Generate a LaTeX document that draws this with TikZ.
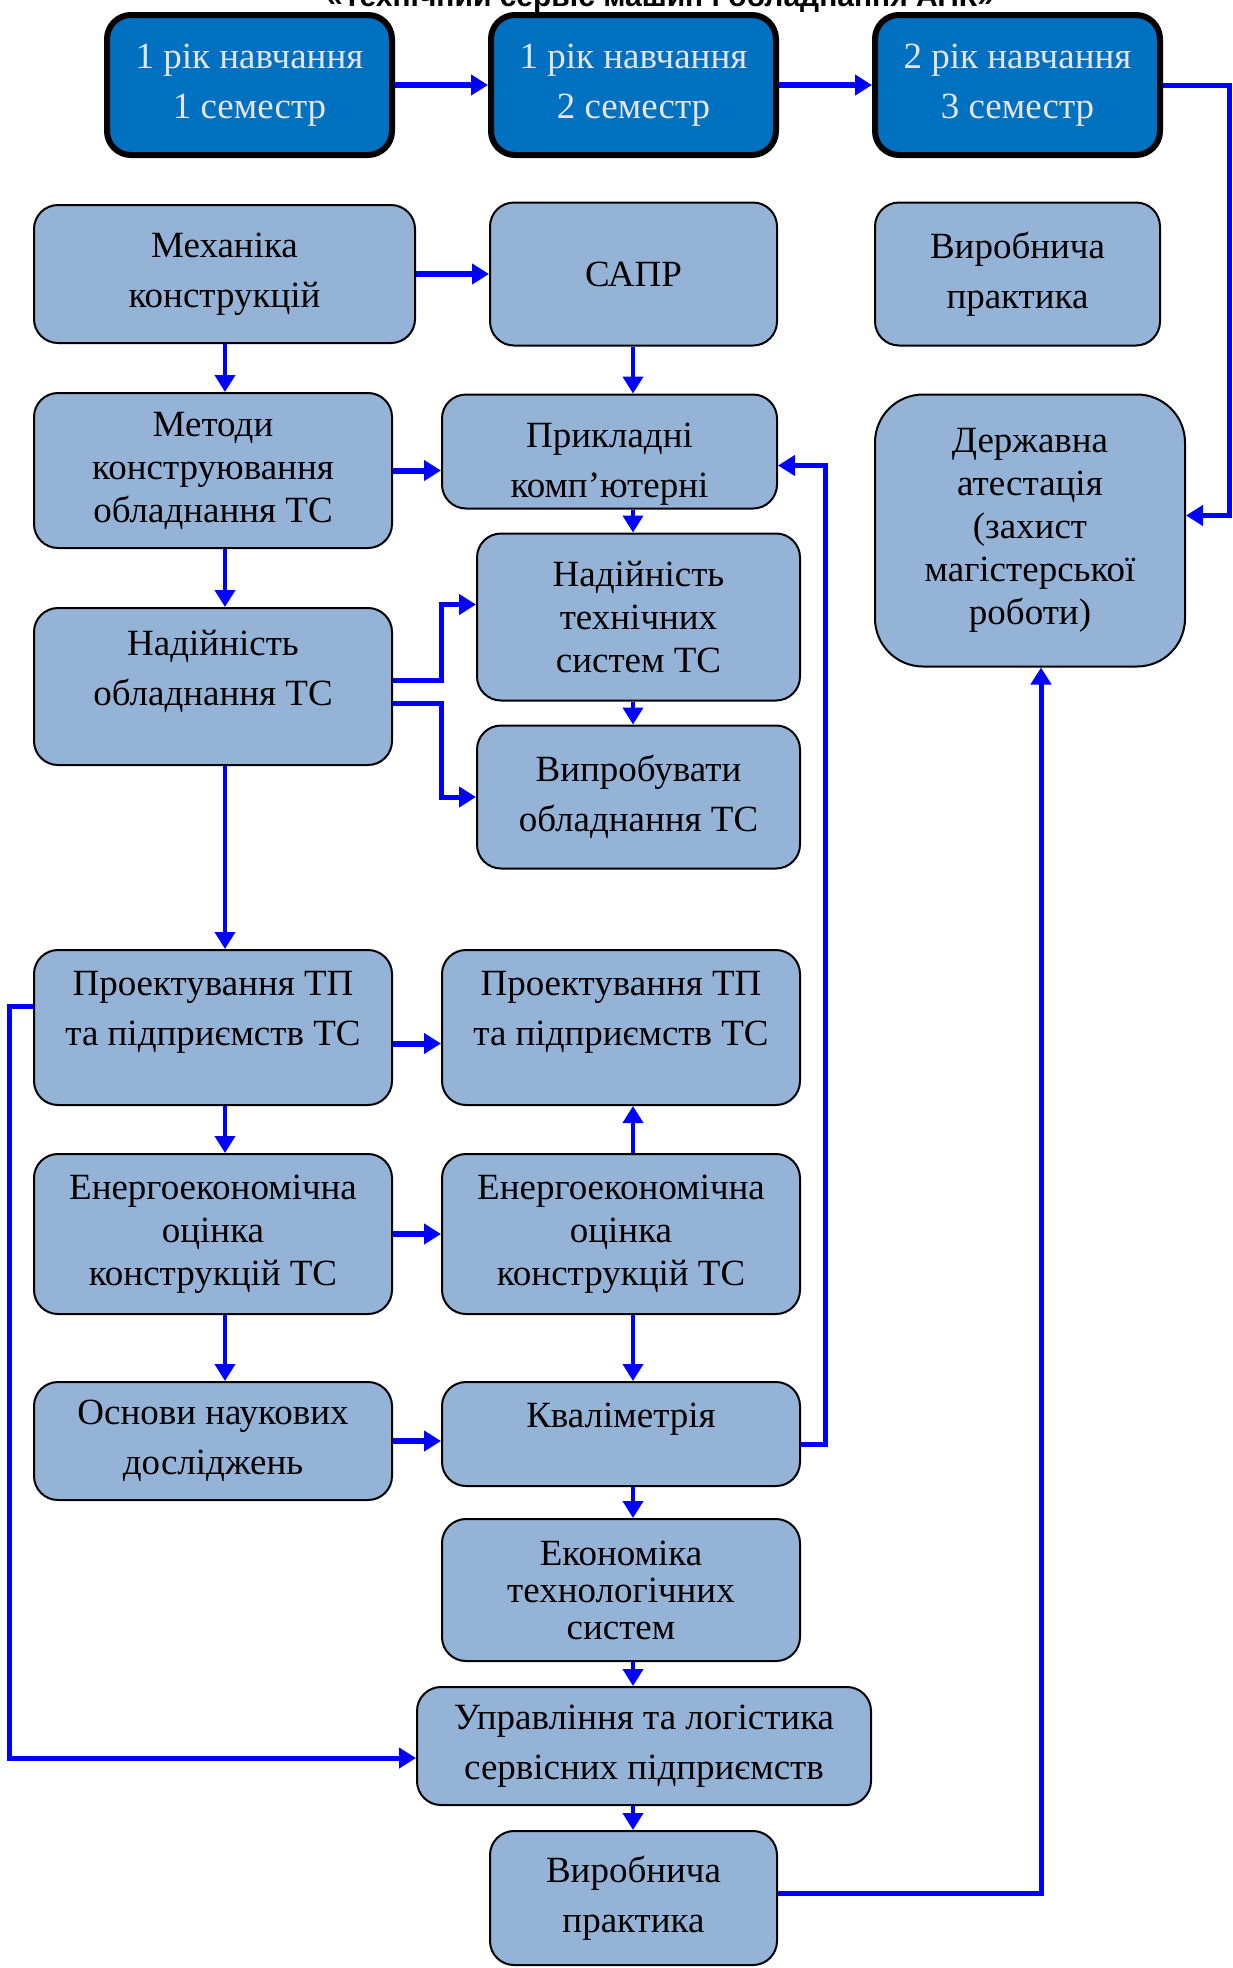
\documentclass[tikz,border=0pt]{standalone}
\usepackage{fontspec}
\setmainfont{Liberation Serif}
\newfontfamily\headfont{Liberation Sans}
\usetikzlibrary{positioning,arrows.meta}
\definecolor{semblue}{HTML}{0070C0}
\definecolor{boxblue}{HTML}{95B3D7}
\definecolor{semtext}{HTML}{E4E4E4}
\definecolor{linkblue}{HTML}{0000FF}
\begin{document}
\begin{tikzpicture}[x=1pt,y=-1pt,
sem/.style={draw=black,line width=6pt,fill=semblue,rounded corners=24pt,text=semtext,align=center,inner sep=0pt,minimum width=285pt,minimum height=140pt,font=\fontsize{37}{50}\selectfont},
box/.style={draw=black,line width=2pt,fill=boxblue,rounded corners=24pt,align=center,inner sep=0pt,font=\fontsize{37}{50}\selectfont},
three/.style={font=\fontsize{37}{43}\selectfont},
lift/.style={text depth=38pt},
lcol/.style={box,minimum width=358pt},
arr/.style={draw=linkblue,line width=4pt,-{Triangle[length=17pt,width=20pt]}},
harr/.style={arr,line width=6pt},
elb/.style={arr,line width=5pt}]
\useasboundingbox (0,0) rectangle (1232,1968);
\node[anchor=base,font=\headfont\bfseries\fontsize{30}{36}\selectfont] (title) at (660,6) {«Технічний сервіс машин і обладнання АПК»};
\node[sem] (s1) at (249.5,85) {1 рік навчання\\1 семестр};
\node[sem,right=93pt of s1] (s2) {1 рік навчання\\2 семестр};
\node[sem,right=93pt of s2] (s3) {2 рік навчання\\3 семестр};
\node[box,minimum width=381pt,minimum height=138pt] (meh) at (224.5,274) {Механіка\\конструкцій};
\node[lcol,three,minimum height=155pt,below=48pt of meh,xshift=-11.5pt] (met) {Методи\\конструювання\\обладнання ТС};
\node[lcol,lift,minimum height=157pt,below=58pt of met] (nadobl) {Надійність\\обладнання ТС};
\node[lcol,lift,minimum height=155pt,below=183pt of nadobl] (proekt1) {Проектування ТП\\та підприємств ТС};
\node[lcol,three,minimum height=160pt,below=47pt of proekt1] (energ1) {Енергоекономічна\\оцінка\\конструкцій ТС};
\node[lcol,minimum height=118pt,below=66pt of energ1] (osnovy) {Основи наукових\\досліджень};
\node[box,minimum width=287pt,minimum height=143pt,right=73pt of meh] (sapr) {САПР};
\node[box,minimum width=335pt,minimum height=114pt,below=47pt of sapr,xshift=-24pt] (prykl) {\rule{0pt}{50pt}Прикладні\\комп’ютерні};
\node[box,three,minimum width=323pt,minimum height=167pt,below=23pt of prykl,xshift=29pt] (nadtech) {Надійність\\технічних\\систем ТС};
\node[box,minimum width=323pt,minimum height=143pt,below=23pt of nadtech] (vyprob) {Випробувати\\обладнання ТС};
\node[lcol,lift,minimum height=155pt,right=48pt of proekt1] (proekt2) {Проектування ТП\\та підприємств ТС};
\node[lcol,three,minimum height=160pt,right=48pt of energ1] (energ2) {Енергоекономічна\\оцінка\\конструкцій ТС};
\node[lcol,lift,minimum height=104pt,below=66pt of energ2] (kvalim) {Кваліметрія};
\node[lcol,minimum height=142pt,below=31pt of kvalim,font=\fontsize{37}{37}\selectfont] (ekon) {Економіка\\технологічних\\систем};
\node[box,minimum width=454pt,minimum height=118pt,below=24pt of ekon,xshift=23pt] (uprav) {Управління та логістика\\сервісних підприємств};
\node[box,minimum width=287pt,minimum height=134pt,below=24pt of uprav,xshift=-10.5pt] (prak2) {Виробнича\\практика};
\node[box,minimum width=285pt,minimum height=143pt,right=96pt of sapr] (prak1) {Виробнича\\практика};
\node[box,three,rounded corners=48pt,minimum width=310pt,minimum height=272pt,below=47pt of prak1,xshift=12.5pt] (derzh) {Державна\\атестація\\(захист\\магістерської\\роботи)};
\coordinate (lx) at (225,0);
\coordinate (mx) at (633,0);
\draw[harr] (s1) -- (s2);
\draw[harr] (s2) -- (s3);
\draw[elb] (s3.east) -- ++(66,0) |- ([yshift=15pt]derzh.east);
\draw[harr] (meh) -- (sapr);
\draw[harr] (met.east) -- (met.east -| prykl.west);
\draw[harr] ([yshift=-16pt]proekt1.east) -- ([yshift=-16pt]proekt2.west);
\draw[harr] (energ1) -- (energ2);
\draw[harr] (osnovy.east) -- (osnovy.east -| kvalim.west);
\draw[arr] (meh.south -| lx) -- (met.north -| lx);
\draw[arr] (met.south -| lx) -- (nadobl.north -| lx);
\draw[arr] (nadobl.south -| lx) -- (proekt1.north -| lx);
\draw[arr] (proekt1.south -| lx) -- (energ1.north -| lx);
\draw[arr] (energ1.south -| lx) -- (osnovy.north -| lx);
\draw[arr] (sapr.south -| mx) -- (prykl.north -| mx);
\draw[arr] (prykl.south -| mx) -- (nadtech.north -| mx);
\draw[arr] (nadtech.south -| mx) -- (vyprob.north -| mx);
\draw[arr] (energ2.north -| mx) -- (proekt2.south -| mx);
\draw[arr] (energ2.south -| mx) -- (kvalim.north -| mx);
\draw[arr] (kvalim.south -| mx) -- (ekon.north -| mx);
\draw[arr] (ekon.south -| mx) -- (uprav.north -| mx);
\draw[arr] (uprav.south -| mx) -- (prak2.north -| mx);
\draw[elb] ([yshift=6.5pt]nadobl.east) -- ++(48,0) |- ([yshift=12.5pt]nadtech.west);
\draw[elb] ([yshift=-16.5pt]nadobl.east) -- ++(48,0) |- (vyprob.west);
\draw[elb] ([yshift=-10pt]kvalim.east) -- ++(24,0) |- ([yshift=-14pt]prykl.east);
\draw[elb] ([yshift=21.5pt]proekt1.west) -- ++(-24,0) |- ([yshift=-12pt]uprav.west);
\draw[elb] ([yshift=5pt]prak2.east) -| ([xshift=11pt]derzh.south);
\end{tikzpicture}
\end{document}
